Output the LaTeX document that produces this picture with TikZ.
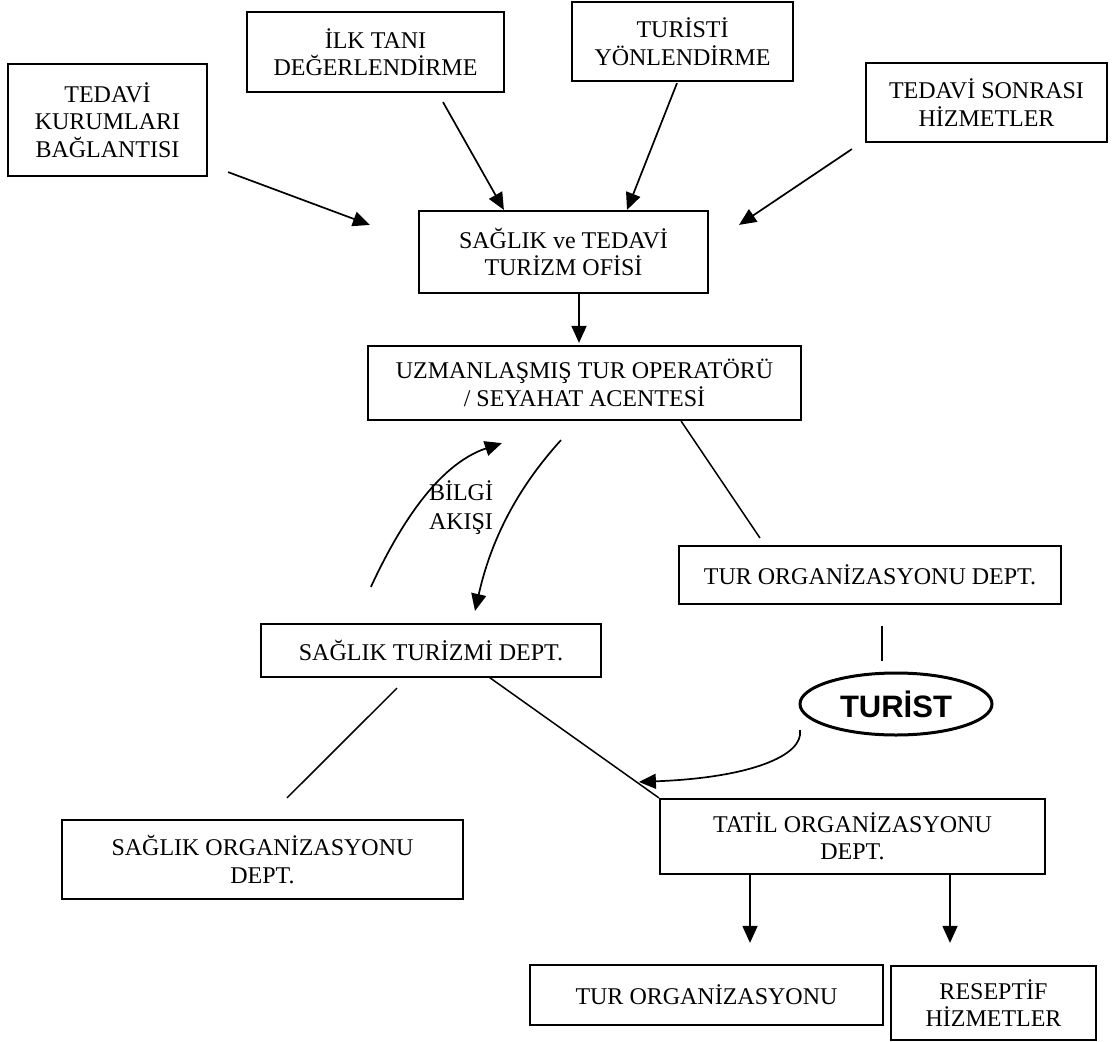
\documentclass[tikz,border=0pt]{standalone}
\usepackage{fontspec}
\setmainfont{Liberation Serif}
\newfontfamily\turistfont{Liberation Sans}
\usetikzlibrary{arrows.meta,calc,shapes,positioning}

\begin{document}
\begin{tikzpicture}[x=1pt,y=-1pt,line width=1.7pt,
  kutu/.style={draw,line width=2.2pt,align=center,inner sep=0pt,font=\fontsize{24}{27.5}\selectfont},
  etiket/.style={align=center,inner sep=0pt,font=\fontsize{24}{29}\selectfont},
  ok/.style={-{Triangle[length=17pt,width=15pt]}},
  cizgi/.style={line width=1.5pt}]
\useasboundingbox (0,0) rectangle (1112,1042);
%top boxes
\node[kutu,minimum width=199pt,minimum height=112pt] (KURUM) at (107.5,120) {TEDAVİ\\KURUMLARI\\BAĞLANTISI};
\node[kutu,minimum width=257pt,minimum height=80pt] (ILKTANI) at (375.5,52) {İLK TANI\\DEĞERLENDİRME};
\node[kutu,minimum width=221pt,minimum height=79pt] (YONLEND) at (682.5,41.5) {TURİSTİ\\YÖNLENDİRME};
\node[kutu,minimum width=241pt,minimum height=79pt] (SONRASI) at (986.5,102.5) {TEDAVİ SONRASI\\HİZMETLER};
%office and operator
\node[kutu,minimum width=289pt,minimum height=82pt] (OFIS) at (563.5,252) {SAĞLIK ve TEDAVİ\\TURİZM OFİSİ};
\node[kutu,minimum width=433pt,minimum height=74pt] (OPERATOR) at (584.5,383) {UZMANLAŞMIŞ TUR OPERATÖRÜ\\/ SEYAHAT ACENTESİ};
%departments
\node[kutu,minimum width=382pt,minimum height=58pt] (TURORGDEPT) at (870,575) {TUR ORGANİZASYONU DEPT.};
\node[kutu,minimum width=340pt,minimum height=53pt] (SAGLIKDEPT) at (431,650.5) {SAĞLIK TURİZMİ DEPT.};
\node[kutu,minimum width=401pt,minimum height=79pt] (SAGLIKORG) at (262.5,859.5) {SAĞLIK ORGANİZASYONU\\DEPT.};
\node[kutu,minimum width=385pt,minimum height=75pt] (TATIL) at (852.5,836.5) {TATİL ORGANİZASYONU\\DEPT.};
\node[kutu,minimum width=353pt,minimum height=60pt] (TURORG) at (706.5,995) {TUR ORGANİZASYONU};
\node[kutu,minimum width=205pt,minimum height=74pt] (RESEPTIF) at (993.5,1003) {RESEPTİF\\HİZMETLER};
%tourist
\node[draw,ellipse,line width=3pt,inner sep=0pt,minimum width=192pt,minimum height=62pt,
  font=\turistfont\bfseries\fontsize{31}{31}\selectfont] (TURIST) at (896,704) {TURİST};
%label
\node[etiket] (BILGI) at (461,508) {BİLGİ\\AKIŞI};
%arrows into the office
\coordinate (K1) at ($(KURUM.south east)+(20,-5)$);
\coordinate (K2) at ($(OFIS.north west)+(-48,15)$);
\draw[ok] (K1) -- (K2);
\coordinate (I1) at ($(ILKTANI.south)+(67.5,9)$);
\coordinate (I2) at ($(OFIS.north west)+(86,0)$);
\draw[ok] (I1) -- (I2);
\coordinate (Y1) at ($(YONLEND.south)+(-5.5,1)$);
\coordinate (Y2) at ($(OFIS.north)+(63.5,0)$);
\draw[ok] (Y1) -- (Y2);
\coordinate (S1) at ($(SONRASI.south west)+(-13,6)$);
\coordinate (S2) at ($(OFIS.north east)+(30,15)$);
\draw[ok] (S1) -- (S2);
\coordinate (O1) at ($(OFIS.south)+(15.5,0)$);
\coordinate (O2) at ($(OPERATOR.north)+(-5.5,-2)$);
\draw[ok] (O1) -- (O2);
%operator to departments
\coordinate (T1) at ($(OPERATOR.south east)+(-121,0)$);
\coordinate (T2) at ($(TURORGDEPT.north west)+(82,-7)$);
\draw[cizgi] (T1) -- (T2);
\coordinate (B1) at ($(SAGLIKDEPT.north west)+(111,-36)$);
\coordinate (B2) at ($(OPERATOR.south west)+(135,22)$);
\draw[ok] (B1) .. controls ($(B1)+(26,-56)$) and ($(B2)+(-66,22)$) .. (B2);
\coordinate (D1) at ($(OPERATOR.south)+(-23.5,19)$);
\coordinate (D2) at ($(SAGLIKDEPT.north)+(44,-12)$);
\draw[ok] (D1) .. controls ($(D1)+(-50,55)$) and ($(D2)+(14,-62)$) .. (D2);
%health department
\coordinate (H1) at ($(SAGLIKDEPT.south)+(-34,10)$);
\coordinate (H2) at ($(SAGLIKORG.north)+(24.5,-21)$);
\draw[cizgi] (H1) -- (H2);
\coordinate (H3) at ($(SAGLIKDEPT.south)+(58,-1)$);
\draw[cizgi] (H3) -- (TATIL.north west);
%tourist links
\coordinate (U1) at ($(TURORGDEPT.south)+(12,21)$);
\coordinate (U2) at ($(TURIST.north)+(-14,-11)$);
\draw[cizgi] (U1) -- (U2);
\coordinate (U3) at ($(TURIST.center)+(-96,26)$);
\coordinate (U4) at ($(TATIL.north west)+(-20,-16)$);
\draw[ok] (U3) .. controls ($(U3)+(4,26)$) and ($(U4)+(110,-4)$) .. (U4);
%holiday department
\coordinate (A1) at ($(TATIL.south)+(-102.5,0)$);
\coordinate (A2) at ($(TURORG.north)+(43.5,-21)$);
\draw[ok] (A1) -- (A2);
\coordinate (A3) at ($(TATIL.south)+(97.5,0)$);
\coordinate (A4) at ($(RESEPTIF.north)+(-43.5,-22)$);
\draw[ok] (A3) -- (A4);
\end{tikzpicture}
\end{document}
